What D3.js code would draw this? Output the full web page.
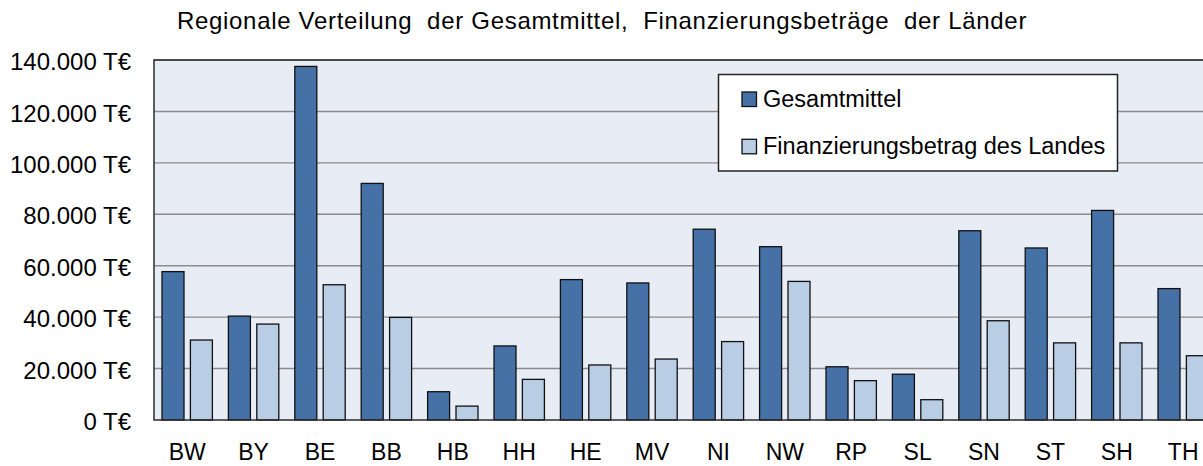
<!DOCTYPE html>
<html>
<head>
<meta charset="utf-8">
<script src="https://cdn.jsdelivr.net/npm/d3@7"></script>
<style>
  html, body { margin: 0; padding: 0; background: #fff; }
  svg { display: block; font-family: "Liberation Sans", Arial, sans-serif; }
</style>
</head>
<body>
<svg width="1203" height="466"></svg>
<script>
const categories = ['BW', 'BY', 'BE', 'BB', 'HB', 'HH', 'HE', 'MV', 'NI', 'NW', 'RP', 'SL', 'SN', 'ST', 'SH', 'TH'];
const seriesNames = ['Gesamtmittel', 'Finanzierungsbetrag des Landes'];
const gesamtmittel = [57700, 40400, 137500, 92000, 11000, 28800, 54600, 53300, 74200, 67400, 20700, 17800, 73600, 66900, 81500, 51100];
const finanzierung = [31100, 37300, 52600, 39900, 5400, 15800, 21400, 23700, 30500, 53900, 15300, 7900, 38600, 30000, 30000, 25000];
const yTicks = [0, 20000, 40000, 60000, 80000, 100000, 120000, 140000];
const colors = ['#4571a7', '#b9cde5'];

const svg = d3.select('svg');

// plot area (runs past the right edge of the picture, as in the original)
const plotLeft = 154, plotTop = 60, plotBottom = 420;
const step = 66.4;
const plotRight = plotLeft + categories.length * step;

const x = d3.scaleBand()
    .domain(categories)
    .range([plotLeft, plotRight]);

const x1 = d3.scaleBand()
    .domain(seriesNames)
    .range([8, 58.4])
    .paddingInner(0.2254);

const y = d3.scaleLinear()
    .domain([0, 140000])
    .range([plotBottom, plotTop]);

const locale = d3.formatLocale({decimal: ',', thousands: '.', grouping: [3], currency: ['', '€']});
const fmt = locale.format(',.0f');

// title
svg.append('text')
    .attr('x', 602)
    .attr('y', 29)
    .attr('text-anchor', 'middle')
    .attr('font-size', 24)
    .attr('letter-spacing', 0.7)
    .attr('fill', '#000')
    .style('white-space', 'pre')
    .text('Regionale Verteilung  der Gesamtmittel,  Finanzierungsbeträge  der Länder');

// background
svg.append('rect')
    .attr('x', plotLeft)
    .attr('y', plotTop)
    .attr('width', plotRight - plotLeft)
    .attr('height', plotBottom - plotTop)
    .attr('fill', '#e8ecf4');

// gridlines
svg.append('g')
    .selectAll('line')
    .data(yTicks.filter(d => d > 0))
    .join('line')
    .attr('x1', plotLeft)
    .attr('x2', plotRight)
    .attr('y1', d => y(d))
    .attr('y2', d => y(d))
    .attr('stroke', '#8c8c8c')
    .attr('stroke-width', 1.4);

// bars
const table = categories.map((c, i) => ({cat: c, values: [gesamtmittel[i], finanzierung[i]]}));

svg.append('g')
    .selectAll('g')
    .data(table)
    .join('g')
    .attr('transform', d => `translate(${x(d.cat)},0)`)
    .selectAll('rect')
    .data(d => d.values.map((v, j) => ({name: seriesNames[j], value: v, j: j})))
    .join('rect')
    .attr('x', d => x1(d.name))
    .attr('y', d => y(d.value))
    .attr('width', x1.bandwidth())
    .attr('height', d => y(0) - y(d.value))
    .attr('fill', d => colors[d.j])
    .attr('stroke', '#111')
    .attr('stroke-width', 1.3);

// plot border
svg.append('rect')
    .attr('x', plotLeft)
    .attr('y', plotTop)
    .attr('width', plotRight - plotLeft)
    .attr('height', plotBottom - plotTop)
    .attr('fill', 'none')
    .attr('stroke', '#2b2b2b')
    .attr('stroke-width', 1.5);

// y axis
const yAxis = svg.append('g')
    .attr('transform', `translate(${plotLeft},0)`)
    .call(d3.axisLeft(y).tickValues(yTicks).tickSize(0).tickPadding(23)
        .tickFormat(d => fmt(d) + ' T€'));
yAxis.select('.domain').remove();
yAxis.selectAll('.tick text')
    .attr('font-size', 24)
    .attr('font-family', '"Liberation Sans", Arial, sans-serif')
    .attr('fill', '#000')
    .attr('dy', '0.4em');

// x axis
const xAxis = svg.append('g')
    .attr('transform', `translate(0,${plotBottom})`)
    .call(d3.axisBottom(x).tickSize(0).tickPadding(24));
xAxis.select('.domain').remove();
xAxis.selectAll('.tick text')
    .attr('font-size', 23)
    .attr('font-family', '"Liberation Sans", Arial, sans-serif')
    .attr('fill', '#000');

// legend
const legend = svg.append('g');
legend.append('rect')
    .attr('x', 718.5)
    .attr('y', 74.5)
    .attr('width', 399)
    .attr('height', 96.5)
    .attr('fill', '#fff')
    .attr('stroke', '#222')
    .attr('stroke-width', 1.5);

const items = legend.selectAll('g.item')
    .data(seriesNames)
    .join('g')
    .attr('class', 'item')
    .attr('transform', (d, i) => `translate(742,${92 + i * 47.3})`);
items.append('rect')
    .attr('width', 14.5)
    .attr('height', 14.5)
    .attr('fill', (d, i) => colors[i])
    .attr('stroke', '#111')
    .attr('stroke-width', 1.3);
items.append('text')
    .attr('x', 21)
    .attr('y', 15)
    .attr('font-size', 23.5)
    .attr('fill', '#000')
    .text(d => d);
</script>
</body>
</html>
